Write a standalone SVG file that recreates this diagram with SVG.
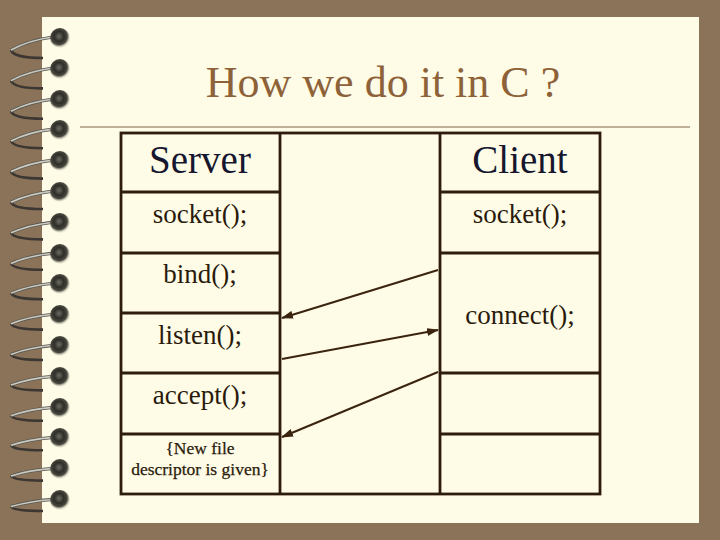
<svg xmlns="http://www.w3.org/2000/svg" xmlns:xlink="http://www.w3.org/1999/xlink" width="720" height="540" viewBox="0 0 720 540">
<style>
.grid{stroke:#2e1c0c;stroke-width:2.8;fill:none}
.hdr{font-family:"Liberation Serif","Times New Roman",serif;font-size:39px;fill:#16162e;text-anchor:middle}
.cell{font-family:"Liberation Serif","Times New Roman",serif;font-size:27px;fill:#2a1a0c;text-anchor:middle}
.small{font-family:"Liberation Serif","Times New Roman",serif;font-size:17.5px;fill:#2a1a0c;text-anchor:middle;stroke:#2a1a0c;stroke-width:0.25}
.conn{stroke:#3a2410;stroke-width:2;fill:none;marker-end:url(#ah)}
.back{stroke:#3c3732;stroke-width:2.6;fill:none}
.front0{stroke:#5a5850;stroke-width:3.2;fill:none}
.front1{stroke:#c9c9c0;stroke-width:1.6;fill:none}
</style>
<defs>
<marker id="ah" markerUnits="userSpaceOnUse" markerWidth="12" markerHeight="8" refX="11" refY="4" orient="auto">
<path d="M0,0 L12,4 L0,8 z" fill="#3a2410"/>
</marker>
<radialGradient id="bg" cx="0.45" cy="0.42" r="0.55">
<stop offset="0" stop-color="#6e6d64"/>
<stop offset="0.45" stop-color="#2e2d28"/>
<stop offset="0.75" stop-color="#4a4940"/>
<stop offset="1" stop-color="#a09e90" stop-opacity="0.15"/>
</radialGradient>
<g id="wire">
<path class="back" d="M11,12 C13,18 28,20 43,20" vector-effect="non-scaling-stroke"/>
<path class="front0" d="M53,-1 C38,1 22,6 11,12" vector-effect="non-scaling-stroke"/>
<path class="front1" d="M53,-1 C38,1 22,6 11,12" vector-effect="non-scaling-stroke"/>
</g>
<circle id="ball" cx="60" cy="0" r="10" fill="url(#bg)"/>
</defs>
<rect x="0" y="0" width="720" height="540" fill="#8b7359"/>
<rect x="42" y="17" width="657" height="506" fill="#fefce6"/>
<g id="spiral">
<use xlink:href="#wire" transform="translate(0,38) scale(1,1)"/><use xlink:href="#ball" transform="translate(0,38)"/>
<use xlink:href="#wire" transform="translate(0,69) scale(1,0.97)"/><use xlink:href="#ball" transform="translate(0,69)"/>
<use xlink:href="#wire" transform="translate(0,100) scale(1,0.94)"/><use xlink:href="#ball" transform="translate(0,100)"/>
<use xlink:href="#wire" transform="translate(0,130) scale(1,0.91)"/><use xlink:href="#ball" transform="translate(0,130)"/>
<use xlink:href="#wire" transform="translate(0,161) scale(1,0.88)"/><use xlink:href="#ball" transform="translate(0,161)"/>
<use xlink:href="#wire" transform="translate(0,192) scale(1,0.85)"/><use xlink:href="#ball" transform="translate(0,192)"/>
<use xlink:href="#wire" transform="translate(0,223) scale(1,0.82)"/><use xlink:href="#ball" transform="translate(0,223)"/>
<use xlink:href="#wire" transform="translate(0,254) scale(1,0.79)"/><use xlink:href="#ball" transform="translate(0,254)"/>
<use xlink:href="#wire" transform="translate(0,284) scale(1,0.76)"/><use xlink:href="#ball" transform="translate(0,284)"/>
<use xlink:href="#wire" transform="translate(0,315) scale(1,0.73)"/><use xlink:href="#ball" transform="translate(0,315)"/>
<use xlink:href="#wire" transform="translate(0,346) scale(1,0.70)"/><use xlink:href="#ball" transform="translate(0,346)"/>
<use xlink:href="#wire" transform="translate(0,377) scale(1,0.67)"/><use xlink:href="#ball" transform="translate(0,377)"/>
<use xlink:href="#wire" transform="translate(0,408) scale(1,0.64)"/><use xlink:href="#ball" transform="translate(0,408)"/>
<use xlink:href="#wire" transform="translate(0,438) scale(1,0.61)"/><use xlink:href="#ball" transform="translate(0,438)"/>
<use xlink:href="#wire" transform="translate(0,469) scale(1,0.58)"/><use xlink:href="#ball" transform="translate(0,469)"/>
<use xlink:href="#wire" transform="translate(0,500) scale(1,0.55)"/><use xlink:href="#ball" transform="translate(0,500)"/>
</g>
<g id="title">
<line x1="80" y1="127" x2="690" y2="127" stroke="#a8987e" stroke-width="1.5"/>
<text x="383" y="97" font-family="'Liberation Serif','Times New Roman',serif" font-size="44" fill="#8e6239" text-anchor="middle">How we do it in C ?</text>
</g>
<g id="table">
<rect class="grid" x="121" y="133" width="479" height="361" stroke-width="3.2"/>
<line class="grid" x1="280" y1="133" x2="280" y2="494"/>
<line class="grid" x1="440" y1="133" x2="440" y2="494"/>
<line class="grid" x1="121" y1="192" x2="280" y2="192"/>
<line class="grid" x1="121" y1="253" x2="280" y2="253"/>
<line class="grid" x1="121" y1="313" x2="280" y2="313"/>
<line class="grid" x1="121" y1="373" x2="280" y2="373"/>
<line class="grid" x1="121" y1="434" x2="280" y2="434"/>
<line class="grid" x1="440" y1="192" x2="600" y2="192"/>
<line class="grid" x1="440" y1="253" x2="600" y2="253"/>
<line class="grid" x1="440" y1="373" x2="600" y2="373"/>
<line class="grid" x1="440" y1="434" x2="600" y2="434"/>
</g>
<g id="server-header"><text class="hdr" x="200" y="173">Server</text></g>
<g id="client-header"><text class="hdr" x="520" y="173">Client</text></g>
<g id="server-socket"><text class="cell" x="200" y="223">socket();</text></g>
<g id="client-socket"><text class="cell" x="520" y="223">socket();</text></g>
<g id="server-bind"><text class="cell" x="200" y="283">bind();</text></g>
<g id="server-listen"><text class="cell" x="200" y="344">listen();</text></g>
<g id="server-accept"><text class="cell" x="200" y="404">accept();</text></g>
<g id="client-connect"><text class="cell" x="520" y="324">connect();</text></g>
<g id="server-newfd"><text class="small" x="200" y="454">{New file</text><text class="small" x="200" y="475">descriptor is given}</text></g>
<g id="connectors">
<line class="conn" x1="438" y1="270" x2="282" y2="318"/>
<line class="conn" x1="282" y1="359" x2="438" y2="330"/>
<line class="conn" x1="438" y1="372" x2="282" y2="437"/>
</g>
</svg>
